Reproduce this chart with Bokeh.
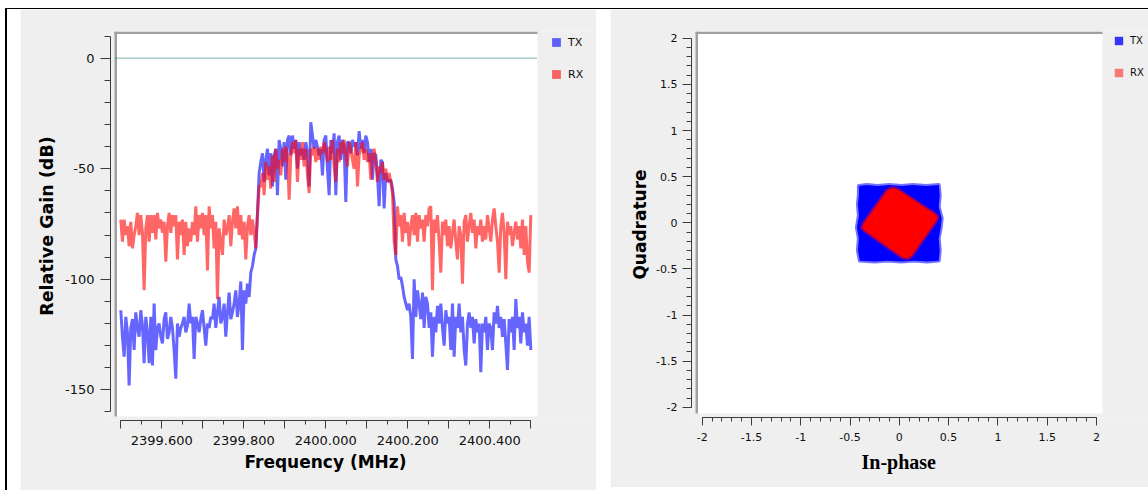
import numpy as np
from bokeh.plotting import figure
from bokeh.layouts import row
from bokeh.models import Range1d, FixedTicker, Legend, LegendItem, BoxAnnotation, Title
from bokeh.embed import file_html
from bokeh.resources import INLINE

# ---------------- data: spectrum (relative gain, dB) ----------------
FREQ_START_MHZ = 2399.5
FREQ_STOP_MHZ = 2400.5

tx_db = [
    -114, -126, -135, -117, -124, -148, -122, -118, -132, -115,
    -122, -126, -114, -121, -138, -117, -124, -138, -117, -139,
    -111, -132, -122, -120, -126, -129, -118, -115, -127, -124,
    -117, -122, -132, -145, -120, -126, -122, -120, -117, -124,
    -121, -111, -120, -117, -136, -117, -120, -124, -118, -114,
    -122, -130, -120, -122, -117, -118, -111, -122, -115, -108,
    -120, -117, -111, -126, -115, -106, -118, -115, -111, -105,
    -117, -111, -101, -132, -105, -111, -102, -108, -97, -94,
    -89, -86, -70, -52, -47, -43, -56, -46, -41, -53,
    -43, -58, -44, -41, -62, -37, -41, -49, -38, -55,
    -37, -35, -44, -35, -41, -37, -50, -38, -44, -41,
    -46, -38, -43, -58, -29, -35, -41, -37, -40, -44,
    -41, -53, -37,
    -35, -50, -62, -37, -43, -34, -62, -38, -35, -46,
    -37, -40, -65, -38, -38, -43, -37, -40, -38, -44,
    -33, -41, -37, -43, -35, -38, -47, -41, -55, -43,
    -44, -53, -67, -46, -47, -68, -52, -55, -56, -55,
    -59, -65, -91, -94, -100, -99, -103, -108, -111, -114,
    -111, -117, -136, -100, -117, -105, -111, -118, -106, -122,
    -108, -111, -122, -115, -135, -117, -124, -112, -120, -111,
    -122, -130, -114, -120, -117, -132, -111, -135, -117, -122,
    -111, -124, -117, -132, -139, -120, -115, -122, -117, -129,
    -118, -124, -120, -142, -120, -124, -117, -132, -120, -122,
    -132, -115, -120, -112, -122, -117, -126, -118, -129, -141,
    -118, -124, -117, -132, -109, -122, -117, -129, -115, -124,
    -120, -130, -117, -132,
]

rx_db = [
    -73, -83, -73, -80, -76, -85, -74, -86, -80, -76,
    -70, -80, -71, -79, -105, -77, -71, -83, -71, -79,
    -71, -82, -70, -77, -73, -79, -74, -92, -76, -70,
    -79, -71, -76, -71, -91, -74, -80, -73, -89, -74,
    -85, -77, -83, -74, -80, -67, -83, -71, -77, -70,
    -80, -71, -96, -67, -77, -71, -86, -74, -109, -77,
    -83, -89, -73, -80, -77, -71, -85, -74, -68, -77,
    -67, -80, -71, -82, -74, -91, -76, -71, -80, -73,
    -79, -86, -71, -58, -58, -52, -62, -47, -55, -49,
    -59, -44, -56, -41, -50, -46, -53, -41, -47, -40,
    -44, -64, -44, -38, -43, -37, -56, -41, -46, -38,
    -49, -41, -53, -61, -41, -44, -40, -47, -41, -46,
    -40, -43, -38,
    -41, -47, -40, -46, -37, -49, -56, -41, -47, -38,
    -43, -37, -44, -49, -38, -41, -46, -50, -38, -58,
    -44, -41, -38, -46, -41, -47, -43, -55, -44, -41,
    -47, -56, -49, -52, -47, -55, -50, -56, -52, -56,
    -61, -83, -89, -67, -76, -71, -83, -70, -79, -74,
    -85, -76, -71, -80, -70, -83, -71, -77, -73, -83,
    -71, -76, -68, -67, -105, -73, -79, -71, -83, -97,
    -74, -80, -73, -85, -76, -86, -79, -73, -83, -91,
    -76, -80, -102, -74, -71, -83, -76, -70, -79, -73,
    -86, -76, -80, -73, -83, -76, -82, -71, -77, -83,
    -73, -68, -76, -83, -97, -76, -70, -79, -100, -74,
    -80, -76, -85, -79, -74, -82, -76, -86, -73, -89,
    -76, -92, -97, -71,
]

freq_mhz = np.linspace(FREQ_START_MHZ, FREQ_STOP_MHZ, len(tx_db))
ZERO_REF_DB = 0.0

freq_ticks = [2399.5, 2399.6, 2399.7, 2399.8, 2399.9, 2400.0,
              2400.1, 2400.2, 2400.3, 2400.4, 2400.5]
freq_tick_labels = ["", "2399.600", "", "2399.800", "", "2400.000",
                    "", "2400.200", "", "2400.400", ""]
freq_minor_ticks = [2399.5, 2399.55, 2399.6, 2399.65, 2399.7, 2399.75, 2399.8,
                    2399.85, 2399.9, 2399.95, 2400.0, 2400.05, 2400.1, 2400.15,
                    2400.2, 2400.25, 2400.3, 2400.35, 2400.4, 2400.45, 2400.5]
gain_ticks = [-150, -100, -50, 0]
gain_tick_labels = ["-150", "-100", "-50", "0"]
gain_minor_ticks = [-160, -150, -140, -130, -120, -110, -100, -90, -80, -70,
                    -60, -50, -40, -30, -20, -10, 0, 10]

# ---------------- data: constellation outlines (I, Q) ----------------
tx_i = [-0.41, -0.33, -0.22, -0.10, 0.02, 0.14, 0.27, 0.40, 0.41, 0.40, 0.43, 0.42,
        0.40, 0.41, 0.40, 0.28, 0.15, 0.02, -0.12, -0.25, -0.40, -0.42, -0.41,
        -0.43, -0.41, -0.42, -0.41]
tx_q = [0.40, 0.41, 0.40, 0.41, 0.40, 0.41, 0.40, 0.41, 0.30, 0.17, 0.05, -0.05,
        -0.17, -0.30, -0.41, -0.42, -0.41, -0.42, -0.41, -0.42, -0.41, -0.30, -0.17,
        -0.05, 0.08, 0.20, 0.30]
rx_i = [-0.12, -0.07, -0.02, 0.35, 0.385, 0.37, 0.12, 0.08, 0.03, -0.34, -0.375, -0.36]
rx_q = [0.35, 0.375, 0.36, 0.10, 0.065, 0.02, -0.36, -0.385, -0.37, -0.09, -0.055, -0.01]

iq_ticks = [-2, -1.5, -1, -0.5, 0, 0.5, 1, 1.5, 2]
iq_tick_labels = ["-2", "-1.5", "-1", "-0.5", "0", "0.5", "1", "1.5", "2"]
iq_minor_ticks = [-2.0, -1.9, -1.8, -1.7, -1.6, -1.5, -1.4, -1.3, -1.2, -1.1, -1.0,
                  -0.9, -0.8, -0.7, -0.6, -0.5, -0.4, -0.3, -0.2, -0.1, 0.0,
                  0.1, 0.2, 0.3, 0.4, 0.5, 0.6, 0.7, 0.8, 0.9, 1.0,
                  1.1, 1.2, 1.3, 1.4, 1.5, 1.6, 1.7, 1.8, 1.9, 2.0]

series_names = ["TX", "RX"]

PANEL_BG = "#efefef"
FRAME_GRAY = "#a0a0a0"
TICK_FONT = "DejaVu Sans"
AXIS_COLOR = "#3c3c3c"
TEXT_COLOR = "#101010"


def style_axis(ax, bounds, tick_size, tick_out, minor_out, standoff, label_font=None,
               label_size=None, label_standoff=None):
    ax.bounds = bounds
    ax.axis_line_color = AXIS_COLOR
    ax.major_tick_line_color = AXIS_COLOR
    ax.minor_tick_line_color = AXIS_COLOR
    ax.major_tick_in = 0
    ax.minor_tick_in = 0
    ax.major_tick_out = tick_out
    ax.minor_tick_out = minor_out
    ax.major_label_standoff = standoff
    ax.major_label_text_font = TICK_FONT
    ax.major_label_text_font_size = tick_size
    ax.major_label_text_color = TEXT_COLOR
    if label_font is not None:
        ax.axis_label_text_font = label_font
        ax.axis_label_text_font_size = label_size
        ax.axis_label_text_font_style = "bold"
        ax.axis_label_text_color = "#000000"
        ax.axis_label_standoff = label_standoff


def add_canvas(p, left, right, bottom, top, edge_w, edge_h):
    """White plotting canvas with a sunken grey edge on top and left."""
    p.add_layout(BoxAnnotation(left=left, right=right, bottom=bottom, top=top,
                               fill_color="white", fill_alpha=1, line_color=None,
                               level="underlay"))
    p.add_layout(BoxAnnotation(left=left - edge_w * 0.4, right=right, bottom=top - edge_h,
                               top=top, fill_color=FRAME_GRAY, fill_alpha=1,
                               line_color=None, level="underlay"))
    p.add_layout(BoxAnnotation(left=left - edge_w * 0.4, right=left + edge_w * 0.6,
                               bottom=bottom, top=top, fill_color=FRAME_GRAY,
                               fill_alpha=1, line_color=None, level="underlay"))


def x_title(text, font, size, offset, standoff):
    return Title(text=text, align="left", offset=offset, standoff=standoff,
                 vertical_align="bottom", text_font=font, text_font_size=size,
                 text_font_style="bold", text_color="#000000")


def make_legend(renderers, loc, box, spacing, font_size):
    return Legend(items=[LegendItem(label=n, renderers=[r])
                         for n, r in zip(series_names, renderers)],
                  location=loc, orientation="vertical",
                  glyph_width=box, glyph_height=box, label_height=box, spacing=spacing,
                  label_standoff=1, padding=0, margin=0,
                  label_text_font=TICK_FONT, label_text_font_size=font_size,
                  label_text_color=TEXT_COLOR,
                  border_line_color=None, background_fill_alpha=0)


# ---------------- left: spectrum ----------------
p1 = figure(width=576, height=481,
            x_range=Range1d(2399.4749, 2400.6602), y_range=Range1d(-163.87, 12.04),
            output_backend="svg", toolbar_location=None,
            min_border_left=90, min_border_right=0, min_border_top=21, min_border_bottom=70,
            background_fill_color=PANEL_BG, border_fill_color=PANEL_BG,
            outline_line_color=None, margin=(0, 0, 0, 13))
p1.xgrid.visible = False
p1.ygrid.visible = False

add_canvas(p1, 2399.4871, 2400.5163, -162.07, 12.04, 2.5 / 410, 2.5 / 2.217)

p1.segment(x0=[2399.4871], x1=[2400.5163], y0=[ZERO_REF_DB], y1=[ZERO_REF_DB],
           line_color="#006a6a", line_dash="1 1", line_width=1)

p1.line(freq_mhz, tx_db, line_color="#0000ff", line_alpha=0.6, line_width=3)
p1.line(freq_mhz, rx_db, line_color="#ff0000", line_alpha=0.6, line_width=3)

# square legend swatches (zero-size markers on the same series)
sw_tx1 = p1.scatter(freq_mhz, tx_db, marker="square", size=0, fill_color="#0000ff",
                    fill_alpha=0.6, line_color=None)
sw_rx1 = p1.scatter(freq_mhz, rx_db, marker="square", size=0, fill_color="#ff0000",
                    fill_alpha=0.6, line_color=None)

p1.xaxis.ticker = FixedTicker(ticks=freq_ticks, minor_ticks=freq_minor_ticks)
p1.xaxis.major_label_overrides = dict(zip(freq_ticks, freq_tick_labels))
p1.yaxis.ticker = FixedTicker(ticks=gain_ticks, minor_ticks=gain_minor_ticks)
p1.yaxis.major_label_overrides = dict(zip(gain_ticks, gain_tick_labels))
p1.yaxis.axis_label = "Relative Gain (dB)"
style_axis(p1.xaxis[0], (2399.5, 2400.5), "13px", 8, 4, 7)
style_axis(p1.yaxis[0], (-160, 10), "13px", 10, 6, 6, "DejaVu Sans", "17.5px", 5)
p1.add_layout(x_title("Frequency (MHz)", "DejaVu Sans", "17px", 134, 5), "below")

p1.add_layout(make_legend([sw_tx1, sw_rx1], (435, 335), 22, 10, "11px"))

# ---------------- right: constellation ----------------
p2 = figure(width=538, height=478,
            x_range=Range1d(-2.108, 2.528), y_range=Range1d(-2.110, 2.073),
            output_backend="svg", toolbar_location=None,
            min_border_left=81, min_border_right=0, min_border_top=22, min_border_bottom=68,
            background_fill_color=PANEL_BG, border_fill_color=PANEL_BG,
            outline_line_color=None, margin=(0, 0, 0, 14))
p2.xgrid.visible = False
p2.ygrid.visible = False

add_canvas(p2, -2.0568, 2.0615, -2.067, 2.073, 2.5 / 98.57, 2.5 / 92.75)

p2.patch(tx_i, tx_q, fill_color="#0000ff", line_color="#0000ff", line_alpha=0.55,
         line_width=4, line_join="round")
p2.patch(rx_i, rx_q, fill_color="#ff0000", line_color="#ff0000", line_alpha=0.55,
         line_width=4, line_join="round")

sw_tx2 = p2.scatter(tx_i, tx_q, marker="square", size=0, fill_color="#0000ff",
                    fill_alpha=0.78, line_color=None)
sw_rx2 = p2.scatter(rx_i, rx_q, marker="square", size=0, fill_color="#ff0000",
                    fill_alpha=0.5, line_color=None)

p2.xaxis.ticker = FixedTicker(ticks=iq_ticks, minor_ticks=iq_minor_ticks)
p2.yaxis.ticker = FixedTicker(ticks=iq_ticks, minor_ticks=iq_minor_ticks)
p2.xaxis.major_label_overrides = dict(zip(iq_ticks, iq_tick_labels))
p2.yaxis.major_label_overrides = dict(zip(iq_ticks, iq_tick_labels))
p2.yaxis.axis_label = "Quadrature"
style_axis(p2.xaxis[0], (-2, 2), "11px", 8, 4, 7)
style_axis(p2.yaxis[0], (-2, 2), "11px", 9, 5, 5, "DejaVu Sans", "17px", 3)
p2.add_layout(x_title("In-phase", "Liberation Serif", "20px", 170, 10), "below")

p2.add_layout(make_legend([sw_tx2, sw_rx2], (417, 334), 21, 11, "10px"))

layout = row(p1, p2, styles={"border-top": "1px solid #000000",
                             "border-left": "2px solid #000000",
                             "margin-left": "5px",
                             "margin-top": "8px"})

open("out.html", "w").write(file_html(layout, INLINE))
